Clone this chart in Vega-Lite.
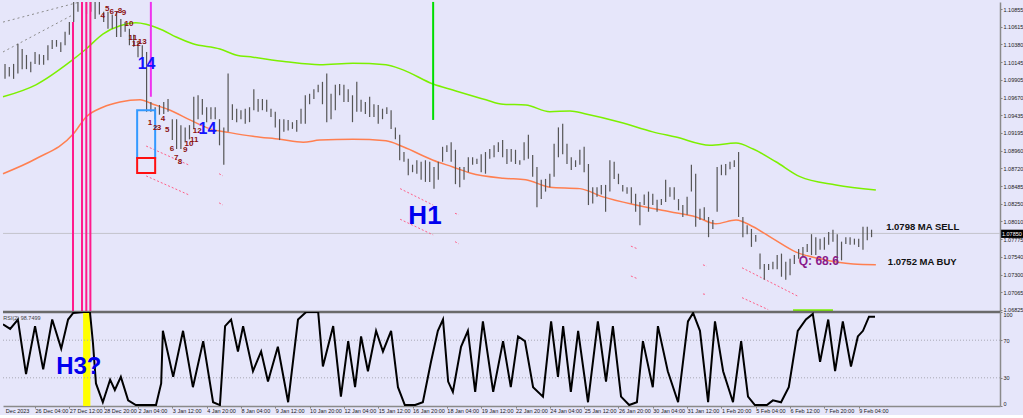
{
"$schema": "https://vega.github.io/schema/vega-lite/v6.json",
"background": "#e6e6fa",
"padding": 0,
"spacing": 0,
"bounds": "flush",
"config": {"view": {"stroke": null}, "font": "Liberation Sans", "axis": {"grid": false, "labelFont": "Liberation Sans"}},
"datasets": {
"bars": [{"k":0,"p":1.1012,"p2":1.0992},{"k":1,"p":1.1008,"p2":1.0995},{"k":2,"p":1.1012,"p2":1.0992},{"k":3,"p":1.1039,"p2":1.0999},{"k":4,"p":1.1032,"p2":1.1005},{"k":5,"p":1.1024,"p2":1.1005},{"k":6,"p":1.1015,"p2":1.1001},{"k":7,"p":1.1028,"p2":1.1012},{"k":8,"p":1.1025,"p2":1.1011},{"k":9,"p":1.1024,"p2":1.1011},{"k":10,"p":1.1037,"p2":1.1017},{"k":11,"p":1.1044,"p2":1.1032},{"k":12,"p":1.1044,"p2":1.1035},{"k":13,"p":1.1041,"p2":1.1028},{"k":14,"p":1.1055,"p2":1.1037},{"k":15,"p":1.1068,"p2":1.1051},{"k":16,"p":1.1102,"p2":1.1068},{"k":17,"p":1.1102,"p2":1.1082},{"k":18,"p":1.1102,"p2":1.1084},{"k":19,"p":1.1102,"p2":1.1079},{"k":20,"p":1.1102,"p2":1.1082},{"k":21,"p":1.1095,"p2":1.1072},{"k":22,"p":1.1095,"p2":1.1078},{"k":23,"p":1.1082,"p2":1.1068},{"k":24,"p":1.1082,"p2":1.1059},{"k":25,"p":1.1078,"p2":1.1059},{"k":26,"p":1.1082,"p2":1.1048},{"k":27,"p":1.1072,"p2":1.1048},{"k":28,"p":1.1068,"p2":1.1055},{"k":29,"p":1.1059,"p2":1.1037},{"k":30,"p":1.1051,"p2":1.1035},{"k":31,"p":1.1041,"p2":1.1021},{"k":32,"p":1.1037,"p2":1.1019},{"k":33,"p":1.1028,"p2":1.0948},{"k":34,"p":1.0961,"p2":1.0948},{"k":35,"p":1.0954,"p2":1.0938},{"k":36,"p":1.0957,"p2":1.0944},{"k":37,"p":1.0961,"p2":1.0945},{"k":38,"p":1.0965,"p2":1.0948},{"k":39,"p":1.0938,"p2":1.0910},{"k":40,"p":1.0938,"p2":1.0898},{"k":41,"p":1.0930,"p2":1.0898},{"k":42,"p":1.0927,"p2":1.0907},{"k":43,"p":1.0930,"p2":1.0911},{"k":44,"p":1.0968,"p2":1.0925},{"k":45,"p":1.0970,"p2":1.0938},{"k":46,"p":1.0965,"p2":1.0944},{"k":47,"p":1.0954,"p2":1.0934},{"k":48,"p":1.0954,"p2":1.0938},{"k":49,"p":1.0954,"p2":1.0938},{"k":50,"p":1.0938,"p2":1.0903},{"k":51,"p":1.0927,"p2":1.0877},{"k":52,"p":1.0999,"p2":1.0921},{"k":53,"p":1.0958,"p2":1.0937},{"k":54,"p":1.0952,"p2":1.0934},{"k":55,"p":1.0950,"p2":1.0938},{"k":56,"p":1.0952,"p2":1.0932},{"k":57,"p":1.0954,"p2":1.0934},{"k":58,"p":1.0978,"p2":1.0950},{"k":59,"p":1.0965,"p2":1.0948},{"k":60,"p":1.0965,"p2":1.0950},{"k":61,"p":1.0964,"p2":1.0948},{"k":62,"p":1.0952,"p2":1.0941},{"k":63,"p":1.0948,"p2":1.0927},{"k":64,"p":1.0938,"p2":1.0910},{"k":65,"p":1.0938,"p2":1.0921},{"k":66,"p":1.0937,"p2":1.0923},{"k":67,"p":1.0934,"p2":1.0925},{"k":68,"p":1.0937,"p2":1.0921},{"k":69,"p":1.0952,"p2":1.0932},{"k":70,"p":1.0970,"p2":1.0932},{"k":71,"p":1.0972,"p2":1.0958},{"k":72,"p":1.0978,"p2":1.0965},{"k":73,"p":1.0984,"p2":1.0974},{"k":74,"p":1.0988,"p2":1.0958},{"k":75,"p":1.0999,"p2":1.0934},{"k":76,"p":1.0972,"p2":1.0938},{"k":77,"p":1.0984,"p2":1.0950},{"k":78,"p":1.0985,"p2":1.0970},{"k":79,"p":1.0984,"p2":1.0961},{"k":80,"p":1.0978,"p2":1.0961},{"k":81,"p":1.0970,"p2":1.0934},{"k":82,"p":1.0988,"p2":1.0948},{"k":83,"p":1.0964,"p2":1.0948},{"k":84,"p":1.0961,"p2":1.0945},{"k":85,"p":1.0968,"p2":1.0941},{"k":86,"p":1.0958,"p2":1.0941},{"k":87,"p":1.0957,"p2":1.0932},{"k":88,"p":1.0952,"p2":1.0938},{"k":89,"p":1.0954,"p2":1.0945},{"k":90,"p":1.0950,"p2":1.0925},{"k":91,"p":1.0927,"p2":1.0911},{"k":92,"p":1.0917,"p2":1.0883},{"k":93,"p":1.0894,"p2":1.0881},{"k":94,"p":1.0885,"p2":1.0863},{"k":95,"p":1.0877,"p2":1.0867},{"k":96,"p":1.0883,"p2":1.0865},{"k":97,"p":1.0881,"p2":1.0857},{"k":98,"p":1.0883,"p2":1.0854},{"k":99,"p":1.0881,"p2":1.0854},{"k":100,"p":1.0874,"p2":1.0845},{"k":101,"p":1.0881,"p2":1.0857},{"k":102,"p":1.0901,"p2":1.0881},{"k":103,"p":1.0903,"p2":1.0894},{"k":104,"p":1.0907,"p2":1.0881},{"k":105,"p":1.0897,"p2":1.0851},{"k":106,"p":1.0874,"p2":1.0847},{"k":107,"p":1.0874,"p2":1.0857},{"k":108,"p":1.0887,"p2":1.0867},{"k":109,"p":1.0887,"p2":1.0877},{"k":110,"p":1.0885,"p2":1.0878},{"k":111,"p":1.0891,"p2":1.0867},{"k":112,"p":1.0894,"p2":1.0865},{"k":113,"p":1.0898,"p2":1.0885},{"k":114,"p":1.0903,"p2":1.0887},{"k":115,"p":1.0907,"p2":1.0894},{"k":116,"p":1.0910,"p2":1.0887},{"k":117,"p":1.0898,"p2":1.0878},{"k":118,"p":1.0898,"p2":1.0881},{"k":119,"p":1.0897,"p2":1.0878},{"k":120,"p":1.0883,"p2":1.0877},{"k":121,"p":1.0907,"p2":1.0883},{"k":122,"p":1.0917,"p2":1.0885},{"k":123,"p":1.0890,"p2":1.0861},{"k":124,"p":1.0874,"p2":1.0820},{"k":125,"p":1.0857,"p2":1.0831},{"k":126,"p":1.0858,"p2":1.0841},{"k":127,"p":1.0865,"p2":1.0847},{"k":128,"p":1.0905,"p2":1.0861},{"k":129,"p":1.0927,"p2":1.0887},{"k":130,"p":1.0932,"p2":1.0891},{"k":131,"p":1.0905,"p2":1.0878},{"k":132,"p":1.0887,"p2":1.0870},{"k":133,"p":1.0883,"p2":1.0874},{"k":134,"p":1.0897,"p2":1.0877},{"k":135,"p":1.0901,"p2":1.0867},{"k":136,"p":1.0878,"p2":1.0823},{"k":137,"p":1.0847,"p2":1.0825},{"k":138,"p":1.0847,"p2":1.0834},{"k":139,"p":1.0850,"p2":1.0837},{"k":140,"p":1.0850,"p2":1.0814},{"k":141,"p":1.0883,"p2":1.0841},{"k":142,"p":1.0881,"p2":1.0858},{"k":143,"p":1.0865,"p2":1.0851},{"k":144,"p":1.0850,"p2":1.0841},{"k":145,"p":1.0847,"p2":1.0838},{"k":146,"p":1.0847,"p2":1.0825},{"k":147,"p":1.0838,"p2":1.0814},{"k":148,"p":1.0827,"p2":1.0796},{"k":149,"p":1.0837,"p2":1.0823},{"k":150,"p":1.0841,"p2":1.0814},{"k":151,"p":1.0838,"p2":1.0823},{"k":152,"p":1.0830,"p2":1.0814},{"k":153,"p":1.0831,"p2":1.0823},{"k":154,"p":1.0857,"p2":1.0827},{"k":155,"p":1.0847,"p2":1.0834},{"k":156,"p":1.0847,"p2":1.0830},{"k":157,"p":1.0831,"p2":1.0816},{"k":158,"p":1.0823,"p2":1.0807},{"k":159,"p":1.0834,"p2":1.0810},{"k":160,"p":1.0877,"p2":1.0841},{"k":161,"p":1.0865,"p2":1.0794},{"k":162,"p":1.0818,"p2":1.0803},{"k":163,"p":1.0820,"p2":1.0803},{"k":164,"p":1.0807,"p2":1.0780},{"k":165,"p":1.0803,"p2":1.0791},{"k":166,"p":1.0874,"p2":1.0814},{"k":167,"p":1.0877,"p2":1.0863},{"k":168,"p":1.0878,"p2":1.0863},{"k":169,"p":1.0881,"p2":1.0871},{"k":170,"p":1.0883,"p2":1.0874},{"k":171,"p":1.0894,"p2":1.0807},{"k":172,"p":1.0807,"p2":1.0780},{"k":173,"p":1.0796,"p2":1.0784},{"k":174,"p":1.0791,"p2":1.0767},{"k":175,"p":1.0783,"p2":1.0774},{"k":176,"p":1.0758,"p2":1.0737},{"k":177,"p":1.0744,"p2":1.0723},{"k":178,"p":1.0744,"p2":1.0736},{"k":179,"p":1.0747,"p2":1.0737},{"k":180,"p":1.0756,"p2":1.0737},{"k":181,"p":1.0758,"p2":1.0727},{"k":182,"p":1.0747,"p2":1.0723},{"k":183,"p":1.0751,"p2":1.0729},{"k":184,"p":1.0756,"p2":1.0744},{"k":185,"p":1.0764,"p2":1.0751},{"k":186,"p":1.0767,"p2":1.0753},{"k":187,"p":1.0771,"p2":1.0760},{"k":188,"p":1.0784,"p2":1.0756},{"k":189,"p":1.0780,"p2":1.0756},{"k":190,"p":1.0778,"p2":1.0763},{"k":191,"p":1.0780,"p2":1.0763},{"k":192,"p":1.0787,"p2":1.0770},{"k":193,"p":1.0790,"p2":1.0774},{"k":194,"p":1.0784,"p2":1.0744},{"k":195,"p":1.0774,"p2":1.0749},{"k":196,"p":1.0780,"p2":1.0771},{"k":197,"p":1.0780,"p2":1.0770},{"k":198,"p":1.0778,"p2":1.0770},{"k":199,"p":1.0778,"p2":1.0767},{"k":200,"p":1.0794,"p2":1.0763},{"k":201,"p":1.0794,"p2":1.0776},{"k":202,"p":1.0790,"p2":1.0780}],
"maGreen": [{"k":-0.47,"p":1.0968},{"k":7.2,"p":1.0984},{"k":15.2,"p":1.1015},{"k":18.9,"p":1.1032},{"k":22.8,"p":1.1052},{"k":26.8,"p":1.1063},{"k":30.5,"p":1.1067},{"k":32.9,"p":1.1065},{"k":36.8,"p":1.1057},{"k":39.9,"p":1.1048},{"k":43.8,"p":1.1039},{"k":50.1,"p":1.1032},{"k":53.8,"p":1.1024},{"k":57.8,"p":1.1021},{"k":65.5,"p":1.1015},{"k":73.4,"p":1.1011},{"k":81.1,"p":1.1013},{"k":88.8,"p":1.1011},{"k":92.8,"p":1.1004},{"k":99.8,"p":1.0985},{"k":104.4,"p":1.0977},{"k":112.1,"p":1.0964},{"k":116.1,"p":1.0958},{"k":121.4,"p":1.0957},{"k":127.0,"p":1.0948},{"k":131.7,"p":1.0949},{"k":135.4,"p":1.0945},{"k":143.4,"p":1.0934},{"k":151.0,"p":1.0921},{"k":156.4,"p":1.0914},{"k":164.3,"p":1.0903},{"k":170.4,"p":1.0906},{"k":174.4,"p":1.0898},{"k":179.7,"p":1.0881},{"k":185.3,"p":1.0861},{"k":193.7,"p":1.0850},{"k":203.0,"p":1.0843}],
"maOrange": [{"k":-0.47,"p":1.0865},{"k":7.2,"p":1.0885},{"k":15.9,"p":1.0918},{"k":18.9,"p":1.0941},{"k":22.8,"p":1.0954},{"k":26.8,"p":1.0961},{"k":31.5,"p":1.0964},{"k":34.5,"p":1.0958},{"k":38.5,"p":1.0950},{"k":43.1,"p":1.0937},{"k":47.8,"p":1.0925},{"k":52.4,"p":1.0920},{"k":57.8,"p":1.0915},{"k":64.1,"p":1.0911},{"k":69.5,"p":1.0907},{"k":73.4,"p":1.0910},{"k":81.1,"p":1.0911},{"k":88.8,"p":1.0909},{"k":92.8,"p":1.0901},{"k":99.8,"p":1.0883},{"k":104.4,"p":1.0874},{"k":108.4,"p":1.0866},{"k":116.1,"p":1.0859},{"k":121.4,"p":1.0857},{"k":127.0,"p":1.0847},{"k":134.0,"p":1.0845},{"k":139.4,"p":1.0834},{"k":147.1,"p":1.0823},{"k":155.0,"p":1.0814},{"k":161.1,"p":1.0807},{"k":165.7,"p":1.0798},{"k":170.4,"p":1.0803},{"k":174.4,"p":1.0794},{"k":179.0,"p":1.0778},{"k":184.4,"p":1.0760},{"k":190.0,"p":1.0751},{"k":197.7,"p":1.0744},{"k":203.0,"p":1.0743}],
"pinkDots": [{"g":1,"k":32.9,"p":1.0902},{"g":1,"k":42.7,"p":1.0877},{"g":2,"k":32.9,"p":1.0862},{"g":2,"k":42.7,"p":1.0837},{"g":3,"k":49.9,"p":1.0865},{"g":3,"k":50.8,"p":1.0862},{"g":4,"k":49.9,"p":1.0826},{"g":4,"k":50.8,"p":1.0823},{"g":5,"k":92.1,"p":1.0845},{"g":5,"k":99.8,"p":1.0823},{"g":6,"k":92.1,"p":1.0804},{"g":6,"k":99.8,"p":1.0783},{"g":7,"k":104.9,"p":1.0812},{"g":7,"k":105.8,"p":1.081},{"g":8,"k":104.9,"p":1.0774},{"g":8,"k":105.8,"p":1.0771},{"g":9,"k":145.9,"p":1.0768},{"g":9,"k":147.6,"p":1.0764},{"g":10,"k":145.9,"p":1.0728},{"g":10,"k":147.6,"p":1.0724},{"g":11,"k":162.7,"p":1.0743},{"g":11,"k":163.6,"p":1.0741},{"g":12,"k":162.7,"p":1.0704},{"g":12,"k":163.6,"p":1.0703},{"g":13,"k":171.8,"p":1.0739},{"g":13,"k":184.8,"p":1.0701},{"g":14,"k":171.8,"p":1.0699},{"g":14,"k":177.9,"p":1.0683}],
"grayDots": [{"g":1,"k":-0.47,"p":1.1068},{"g":1,"k":17.5,"p":1.1095},{"g":2,"k":-0.47,"p":1.1028},{"g":2,"k":15.9,"p":1.1078}],
"rsi": [{"k":-0.47,"r":87},{"k":1.2,"r":82},{"k":3.0,"r":92},{"k":4.9,"r":34},{"k":7.0,"r":85},{"k":8.9,"r":39},{"k":11.0,"r":92},{"k":13.1,"r":61},{"k":14.7,"r":92},{"k":15.9,"r":99},{"k":18.2,"r":100},{"k":19.8,"r":100},{"k":20.5,"r":67},{"k":21.2,"r":24},{"k":22.8,"r":4},{"k":24.5,"r":28},{"k":25.6,"r":17},{"k":27.0,"r":31},{"k":28.7,"r":6},{"k":30.5,"r":1},{"k":35.2,"r":1},{"k":36.4,"r":24},{"k":36.8,"r":80},{"k":39.2,"r":31},{"k":41.5,"r":80},{"k":43.8,"r":20},{"k":46.2,"r":69},{"k":48.5,"r":4},{"k":50.1,"r":1},{"k":51.3,"r":85},{"k":52.7,"r":92},{"k":54.3,"r":58},{"k":55.5,"r":85},{"k":57.8,"r":37},{"k":59.7,"r":58},{"k":61.3,"r":26},{"k":63.6,"r":63},{"k":66.0,"r":4},{"k":68.3,"r":92},{"k":70.2,"r":100},{"k":73.0,"r":100},{"k":74.1,"r":42},{"k":76.5,"r":85},{"k":78.3,"r":10},{"k":80.0,"r":69},{"k":81.6,"r":20},{"k":83.0,"r":74},{"k":84.6,"r":37},{"k":86.5,"r":80},{"k":88.1,"r":58},{"k":90.0,"r":80},{"k":91.6,"r":20},{"k":93.2,"r":1},{"k":95.6,"r":1},{"k":97.4,"r":4},{"k":99.3,"r":47},{"k":100.9,"r":80},{"k":102.1,"r":92},{"k":103.3,"r":26},{"k":104.4,"r":15},{"k":106.3,"r":63},{"k":107.9,"r":80},{"k":109.6,"r":15},{"k":111.4,"r":90},{"k":113.8,"r":15},{"k":116.1,"r":69},{"k":117.9,"r":20},{"k":119.6,"r":74},{"k":121.2,"r":69},{"k":123.1,"r":20},{"k":125.4,"r":10},{"k":127.3,"r":90},{"k":128.9,"r":31},{"k":130.1,"r":85},{"k":131.9,"r":15},{"k":133.6,"r":80},{"k":135.9,"r":4},{"k":138.2,"r":90},{"k":140.1,"r":26},{"k":141.7,"r":85},{"k":143.6,"r":10},{"k":145.5,"r":1},{"k":147.3,"r":4},{"k":148.7,"r":69},{"k":151.0,"r":20},{"k":152.2,"r":85},{"k":154.5,"r":37},{"k":156.9,"r":4},{"k":159.2,"r":90},{"k":160.4,"r":99},{"k":162.0,"r":80},{"k":163.9,"r":4},{"k":165.5,"r":90},{"k":167.4,"r":37},{"k":169.7,"r":4},{"k":171.6,"r":69},{"k":173.2,"r":10},{"k":174.8,"r":1},{"k":177.6,"r":1},{"k":179.0,"r":6},{"k":180.9,"r":4},{"k":182.7,"r":20},{"k":184.8,"r":80},{"k":186.7,"r":92},{"k":188.3,"r":98},{"k":190.0,"r":47},{"k":191.9,"r":92},{"k":193.5,"r":37},{"k":195.3,"r":90},{"k":197.2,"r":42},{"k":198.8,"r":74},{"k":200.0,"r":80},{"k":201.4,"r":95},{"k":202.8,"r":95}],
"nums": [{"k":22.8,"p":1.1076,"t":"4"},{"k":23.8,"p":1.1086,"t":"5"},{"k":24.9,"p":1.1082,"t":"6"},{"k":25.9,"p":1.1079,"t":"7"},{"k":26.8,"p":1.1083,"t":"8"},{"k":27.7,"p":1.108,"t":"9"},{"k":28.9,"p":1.1065,"t":"10"},{"k":29.8,"p":1.1047,"t":"11"},{"k":30.6,"p":1.1039,"t":"12"},{"k":32.0,"p":1.1041,"t":"13"},{"k":33.8,"p":1.0933,"t":"1"},{"k":35.0,"p":1.0926,"t":"2"},{"k":35.9,"p":1.0926,"t":"3"},{"k":36.8,"p":1.0938,"t":"4"},{"k":37.8,"p":1.0923,"t":"5"},{"k":38.9,"p":1.0898,"t":"6"},{"k":39.9,"p":1.0886,"t":"7"},{"k":40.8,"p":1.0881,"t":"8"},{"k":42.0,"p":1.0897,"t":"9"},{"k":42.9,"p":1.0905,"t":"10"},{"k":44.1,"p":1.091,"t":"11"},{"k":44.8,"p":1.0922,"t":"12"}]
},
"vconcat": [
{
"width": 997, "height": 310,
"encoding": {
 "x": {"field": "k", "type": "quantitative", "scale": {"domain": [-0.47, 231.94], "nice": false, "zero": false}, "axis": null},
 "y": {"field": "p", "type": "quantitative", "scale": {"domain": [1.06798, 1.10949], "nice": false, "zero": false},
  "axis": {"orient": "right", "title": null, "values": [1.06825,1.07065,1.073,1.0754,1.07775,1.0801,1.0825,1.08485,1.0872,1.0896,1.09195,1.09435,1.0967,1.09905,1.10145,1.1038,1.10615,1.10855], "format": ".5f", "labelFontSize": 5.5, "labelColor": "#222222", "tickSize": 2, "tickColor": "#808080", "domainColor": "#8a8a8a", "domainWidth": 1.5, "labelPadding": 1, "labelOverlap": false, "labelFlush": false}}
},
"layer": [
{"data": {"values": [{"k": -0.47, "k2": 231.94, "p": 1.0785}]}, "mark": {"type": "rule", "color": "#c4c4cc", "strokeWidth": 1}, "encoding": {"x2": {"field": "k2"}}},
{"data": {"name": "grayDots"}, "mark": {"type": "line", "color": "#8c8c8c", "strokeWidth": 1, "strokeDash": [2, 3], "clip": true}, "encoding": {"detail": {"field": "g"}}},
{"data": {"name": "pinkDots"}, "mark": {"type": "line", "color": "#ff5f88", "strokeWidth": 1, "strokeDash": [2, 2], "clip": true}, "encoding": {"detail": {"field": "g"}}},
{"data": {"name": "maGreen"}, "mark": {"type": "line", "color": "#7cf000", "strokeWidth": 1.5, "interpolate": "monotone"}, "encoding": {}},
{"data": {"name": "maOrange"}, "mark": {"type": "line", "color": "#ff7f50", "strokeWidth": 1.5, "interpolate": "monotone"}, "encoding": {}},
{"data": {"values": [{"k":183.7,"p":1.0682},{"k":193.0,"p":1.0682}]}, "mark": {"type": "line", "color": "#7cf000", "strokeWidth": 2}, "encoding": {}},
{"data": {"name": "bars"}, "mark": {"type": "rule", "color": "#555555", "strokeWidth": 1.2, "clip": true}, "encoding": {"y2": {"field": "p2"}}},
{"data": {"values": [{"k":15.85,"p":1.1068,"p2":1.0680},{"k":17.95,"p":1.1095,"p2":1.0680},{"k":18.95,"p":1.1095,"p2":1.0680},{"k":19.9,"p":1.1095,"p2":1.0680}]}, "mark": {"type": "rule", "color": "#ff1a8c", "strokeWidth": 2}, "encoding": {"y2": {"field": "p2"}}},
{"data": {"values": [{"k":34.0,"p":1.1095,"p2":1.0968}]}, "mark": {"type": "rule", "color": "#ee33ee", "strokeWidth": 2}, "encoding": {"y2": {"field": "p2"}}},
{"data": {"values": [{"k":99.8,"p":1.1095,"p2":1.0937}]}, "mark": {"type": "rule", "color": "#00dd00", "strokeWidth": 2}, "encoding": {"y2": {"field": "p2"}}},
{"data": {"values": [{"k":30.8,"k2":35.0,"p":1.0950,"p2":1.0886}]}, "mark": {"type": "rect", "fill": null, "stroke": "#3399ff", "strokeWidth": 2}, "encoding": {"x2": {"field": "k2"}, "y2": {"field": "p2"}}},
{"data": {"values": [{"k":30.8,"k2":35.0,"p":1.0886,"p2":1.0866}]}, "mark": {"type": "rect", "fill": null, "stroke": "#ff1010", "strokeWidth": 2}, "encoding": {"x2": {"field": "k2"}, "y2": {"field": "p2"}}},
{"data": {"name": "nums"}, "mark": {"type": "text", "color": "#8b1010", "fontWeight": "bold", "fontSize": 8, "baseline": "middle"}, "encoding": {"text": {"field": "t"}}},
{"data": {"values": [{"k":33.0,"p":1.1012,"t":"14"},{"k":47.2,"p":1.0925,"t":"14"}]}, "mark": {"type": "text", "color": "#1414ff", "fontWeight": "bold", "fontSize": 16, "baseline": "middle"}, "encoding": {"text": {"field": "t"}}},
{"data": {"values": [{"k":97.9,"p":1.0808,"t":"H1"}]}, "mark": {"type": "text", "color": "#0000ee", "fontWeight": "bold", "fontSize": 26, "baseline": "middle"}, "encoding": {"text": {"field": "t"}}},
{"data": {"values": [{"k":189.7,"p":1.0748,"t":"Q: 68.6"}]}, "mark": {"type": "text", "color": "#8a1a8a", "fontWeight": "bold", "fontSize": 12, "baseline": "middle"}, "encoding": {"text": {"field": "t"}}},
{"data": {"values": [{"k":205.4,"p":1.0794,"t":"1.0798 MA SELL"},{"k":205.8,"p":1.0747,"t":"1.0752 MA BUY"}]}, "mark": {"type": "text", "color": "#111111", "fontWeight": "bold", "fontSize": 9.5, "align": "left", "baseline": "middle"}, "encoding": {"text": {"field": "t"}}},
{"data": {"values": [{"k":232.2,"k2":237.4,"p":1.0790,"p2":1.0779}]}, "mark": {"type": "rect", "fill": "#000000"}, "encoding": {"x2": {"field": "k2"}, "y2": {"field": "p2"}}},
{"data": {"values": [{"k":232.4,"p":1.07845,"t":"1.07850"}]}, "mark": {"type": "text", "color": "#ffffff", "fontSize": 5.5, "align": "left", "baseline": "middle"}, "encoding": {"text": {"field": "t"}}},
{"data": {"values": [{"k": -0.47, "k2": 231.94, "p": 1.06798}]}, "mark": {"type": "rule", "color": "#6a6a6a", "strokeWidth": 2.5}, "encoding": {"x2": {"field": "k2"}}}
]
},
{
"width": 997, "height": 94,
"encoding": {
 "x": {"field": "k", "type": "quantitative", "scale": {"domain": [-0.47, 231.94], "nice": false, "zero": false},
  "axis": {"orient": "bottom", "title": null, "values": [7,15,23,31,39,47,55,63,71,79,87,95,103,111,119,127,135,143,151,159,167,175,183,191,199],
   "labelExpr": "['26 Dec 04:00','27 Dec 12:00','28 Dec 20:00','2 Jan 04:00','3 Jan 12:00','4 Jan 20:00','8 Jan 04:00','9 Jan 12:00','10 Jan 20:00','12 Jan 04:00','15 Jan 12:00','16 Jan 20:00','18 Jan 04:00','19 Jan 12:00','22 Jan 20:00','24 Jan 04:00','25 Jan 12:00','26 Jan 20:00','30 Jan 04:00','31 Jan 12:00','1 Feb 20:00','5 Feb 04:00','6 Feb 12:00','7 Feb 20:00','9 Feb 04:00'][round((datum.value-7)/8)]",
   "labelAlign": "left", "labelFontSize": 5.5, "labelColor": "#222222", "tickSize": 2, "tickColor": "#808080", "labelPadding": 0, "domainColor": "#8a8a8a", "domainWidth": 1.5, "labelOverlap": false, "labelFlush": false}},
 "y": {"field": "r", "type": "quantitative", "scale": {"domain": [0, 100], "nice": false},
  "axis": {"orient": "right", "title": null, "values": [0, 30, 70, 100], "labelFontSize": 5.5, "labelColor": "#222222", "tickSize": 2, "tickColor": "#808080", "domainColor": "#8a8a8a", "domainWidth": 1.5, "labelPadding": 1, "labelOverlap": false, "labelFlush": false,
   "labelBaseline": {"condition": [{"test": "datum.value == 100", "value": "top"}, {"test": "datum.value == 0", "value": "bottom"}], "value": "middle"}}}
},
"layer": [
{"data": {"values": [{"k":18.2,"k2":19.9,"r":0,"r2":100}]}, "mark": {"type": "rect", "fill": "#ffff00"}, "encoding": {"x2": {"field": "k2"}, "y2": {"field": "r2"}}},
{"data": {"values": [{"k":-0.47,"k2":231.94,"r":70},{"k":-0.47,"k2":231.94,"r":30}]}, "mark": {"type": "rule", "color": "#a8a8b4", "strokeWidth": 1, "strokeDash": [1, 2]}, "encoding": {"x2": {"field": "k2"}}},
{"data": {"name": "rsi"}, "mark": {"type": "line", "color": "#000000", "strokeWidth": 2, "clip": true}, "encoding": {}},
{"data": {"values": [{"k":17.2,"r":42,"t":"H3?"}]}, "mark": {"type": "text", "color": "#0000ee", "fontWeight": "bold", "fontSize": 24, "baseline": "middle"}, "encoding": {"text": {"field": "t"}}},
{"data": {"values": [{"k":-0.4,"r":94,"t":"RSI(2) 98.7499"}]}, "mark": {"type": "text", "color": "#444444", "fontSize": 5.5, "align": "left", "baseline": "middle"}, "encoding": {"text": {"field": "t"}}},
{"data": {"values": [{"k":0.2,"r":-5.5,"t":"Dec 2023"}]}, "mark": {"type": "text", "color": "#222222", "fontSize": 5.5, "align": "left", "baseline": "middle"}, "encoding": {"text": {"field": "t"}}}
]
}
]
}
